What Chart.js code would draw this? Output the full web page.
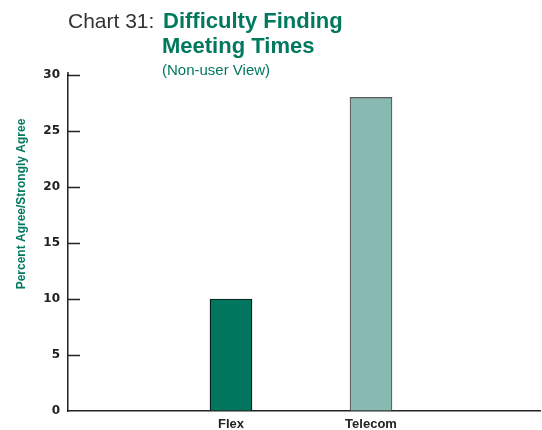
<!DOCTYPE html>
<html>
<head>
<meta charset="utf-8">
<script src="https://cdn.jsdelivr.net/npm/chart.js@4/dist/chart.umd.min.js"></script>
<style>
  body { margin: 0; background: #fff; }
  #wrap { width: 542px; height: 430px; }
</style>
</head>
<body>
<div id="wrap"><canvas id="report_chart"></canvas></div>
<script>
// data
var categories = ['Flex', 'Telecom'];
var values = [10, 28];
var barColors = ['#00765e', '#88bab2'];
var barBorders = ['#111111', '#5a5a5a'];
var yTicks = [0, 5, 10, 15, 20, 25, 30];

var green = '#00795f';
var ink = '#222222';

// extra drawing: mixed style title, y title, inward tick marks
var extras = {
    id: 'extras',
    afterDraw: function(chart) {
        var ctx = chart.ctx;
        var area = chart.chartArea;
        var y = chart.scales.y;
        ctx.save();

        ctx.strokeStyle = ink;
        ctx.lineWidth = 1.5;
        for (var i = 0; i < yTicks.length; i++) {
            if (yTicks[i] === 0) continue;
            var py = Math.round(y.getPixelForValue(yTicks[i])) + 0.5;
            ctx.beginPath();
            ctx.moveTo(area.left, py);
            ctx.lineTo(area.left + 12, py);
            ctx.stroke();
        }
        // axis runs a little past the top tick
        ctx.beginPath();
        ctx.moveTo(area.left, area.top);
        ctx.lineTo(area.left, area.top - 3);
        ctx.stroke();

        ctx.textBaseline = 'alphabetic';
        ctx.textAlign = 'left';
        ctx.fillStyle = '#333333';
        ctx.font = '21px "Liberation Sans", Arial, sans-serif';
        ctx.fillText('Chart 31:', 68, 28);
        ctx.fillStyle = green;
        ctx.font = 'bold 22px "Liberation Sans", Arial, sans-serif';
        ctx.fillText('Difficulty Finding', 163, 28);
        ctx.fillText('Meeting Times', 162, 53);
        ctx.font = '15px "Liberation Sans", Arial, sans-serif';
        ctx.fillText('(Non-user View)', 162, 75);

        ctx.translate(22, 204);
        ctx.rotate(-Math.PI / 2);
        ctx.textAlign = 'center';
        ctx.textBaseline = 'middle';
        ctx.font = 'bold 12px "Liberation Sans", Arial, sans-serif';
        ctx.fillText('Percent Agree/Strongly Agree', 0, 0);
        ctx.restore();
    }
};

function renderChart() {
    var points = [];
    for (var i = 0; i < categories.length; i++) {
        points.push({ x: i + 1, y: values[i] });
    }

    new Chart(document.getElementById('report_chart'), {
        type: 'bar',
        data: {
            datasets: [{
                data: points,
                backgroundColor: barColors,
                borderColor: barBorders,
                borderWidth: 1.2,
                barThickness: 42
            }]
        },
        options: {
            responsive: true,
            maintainAspectRatio: false,
            animation: false,
            layout: { padding: { top: 75, right: 2, left: 0, bottom: 0 } },
            plugins: { legend: { display: false }, tooltip: { enabled: false } },
            scales: {
                x: {
                    type: 'linear',
                    offset: false,
                    min: -0.164,
                    max: 3.207,
                    afterBuildTicks: function(scale) {
                        scale.ticks = categories.map(function(c, i) { return { value: i + 1 }; });
                    },
                    afterFit: function(scale) { scale.height = 19; },
                    ticks: {
                        padding: 6,
                        color: ink,
                        font: { family: '"Liberation Sans", Arial, sans-serif', size: 13, weight: 'bold' },
                        callback: function(v, idx) { return categories[idx]; }
                    },
                    grid: { drawOnChartArea: false, drawTicks: false },
                    border: { color: ink, width: 1.5 }
                },
                y: {
                    min: 0,
                    max: 30,
                    afterBuildTicks: function(scale) {
                        scale.ticks = yTicks.map(function(v) { return { value: v }; });
                    },
                    afterFit: function(scale) { scale.width = 68; },
                    ticks: {
                        padding: 8,
                        color: ink,
                        font: { family: '"DejaVu Sans", sans-serif', size: 12, weight: 'bold' }
                    },
                    grid: { drawOnChartArea: false, drawTicks: false },
                    border: { color: ink, width: 1.5 }
                }
            }
        },
        plugins: [extras]
    });
}

renderChart();
</script>
</body>
</html>
